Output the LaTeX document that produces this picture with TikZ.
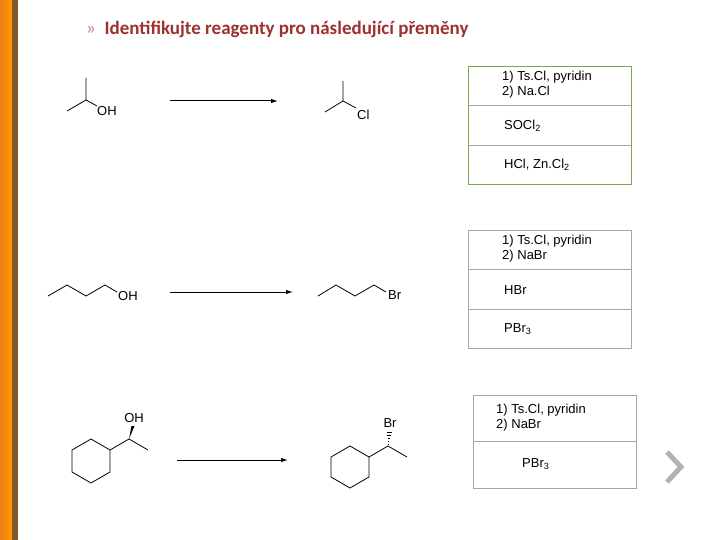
\documentclass[tikz,border=0pt]{standalone}
\usepackage{fontspec}
\setmainfont{Liberation Sans}
\newfontfamily\carl{Carlito}
\usetikzlibrary{arrows.meta,calc}
\definecolor{ttl}{RGB}{158,48,48}
\definecolor{gbox}{RGB}{120,170,80}
\begin{document}
\begin{tikzpicture}[x=1pt,y=-1pt,
  bond/.style={line width=0.8pt},
  rx/.style={line width=1pt,-{Latex[length=7pt,width=4.5pt]}},
  lab/.style={font=\fontsize{13}{15}\selectfont,inner sep=0pt},
  rg/.style={font=\fontsize{13}{15}\selectfont,align=left,anchor=west,inner sep=0pt}]
\useasboundingbox (0,0) rectangle (720,540);
\shade[left color=orange!70!brown,right color=orange!80!yellow] (0,0) rectangle (12,540);
\fill[brown!70!black] (12,0) rectangle (18,540);
\node[anchor=west,inner sep=0pt] (title) at (86,29) {\carl\fontsize{19}{22}\selectfont\color{ttl!60}»\ \ \color{ttl}\bfseries Identifikujte reagenty pro následující přeměny};
% reaction 1
\draw[bond] (86,78)--(86,100)--(67,111) (86,100)--(97,106);
\node[lab,anchor=west] (oh1) at (97,111) {OH};
\coordinate (a1s) at (170,101); \coordinate (a1e) at (278,101);
\draw[rx] (a1s)--(a1e);
\draw[bond] (343,81)--(343,101)--(325,112) (343,101)--(356,108);
\node[lab,anchor=west] (cl1) at (357,115) {Cl};
% reaction 2
\draw[bond] (48,296)--(67,285)--(86,296)--(105,285)--(117,292);
\node[lab,anchor=west] (oh2) at (118,296) {OH};
\coordinate (a2s) at (170,292); \coordinate (a2e) at (293,292);
\draw[rx] (a2s)--(a2e);
\draw[bond] (318,296)--(336,285)--(355,296)--(374,285)--(386,292);
\node[lab,anchor=west] (br2) at (388,295) {Br};
% reaction 3
\draw[bond] (72,450)--(91,439)--(110,450)--(110,472)--(91,483)--(72,472)--cycle;
\draw[bond] (110,450)--(129,439)--(148,450);
\fill (129,439)--(131.5,426)--(134.5,426)--cycle;
\node[lab] (oh3) at (134,418) {OH};
\coordinate (a3s) at (177,460); \coordinate (a3e) at (288,460);
\draw[rx] (a3s)--(a3e);
\draw[bond] (331,457)--(350,446)--(369,457)--(369,477)--(350,488)--(331,477)--cycle;
\draw[bond] (369,457)--(388,446)--(407,457);
\foreach \t in {0.15,0.35,0.55,0.75,0.95}
  \draw[line width=0.6pt] ($(388,446)!\t!(389.5,432)+(-\t*2.2,0)$)--($(388,446)!\t!(389.5,432)+(\t*2.2,0)$);
\node[lab] (br3) at (390,423) {Br};
% boxes
\draw[gbox,line width=0.8pt] (468,66) rectangle (631,184);
\draw[gray!70] (468,105)--(631,105) (468,145)--(631,145);
\node[rg] (r11) at (502,85) {1) Ts.Cl, pyridin\\2) Na.Cl};
\node[rg] (r12) at (504,126) {SOCl\textsubscript{2}};
\node[rg] (r13) at (504,165) {HCl, Zn.Cl\textsubscript{2}};
\draw[gray!70,line width=0.8pt] (468,230) rectangle (631,348) (468,269)--(631,269) (468,309)--(631,309);
\node[rg] (r21) at (502,249) {1) Ts.Cl, pyridin\\2) NaBr};
\node[rg] (r22) at (504,290) {HBr};
\node[rg] (r23) at (504,329) {PBr\textsubscript{3}};
\draw[gray!70,line width=0.8pt] (473,395) rectangle (636,488) (473,441)--(636,441);
\node[rg] (r31) at (496,418) {1) Ts.Cl, pyridin\\2) NaBr};
\node[rg] (r32) at (522,464) {PBr\textsubscript{3}};
\draw[gray!60,line width=5pt] (667,452)--(681,467)--(667,482);
\end{tikzpicture}
\end{document}
